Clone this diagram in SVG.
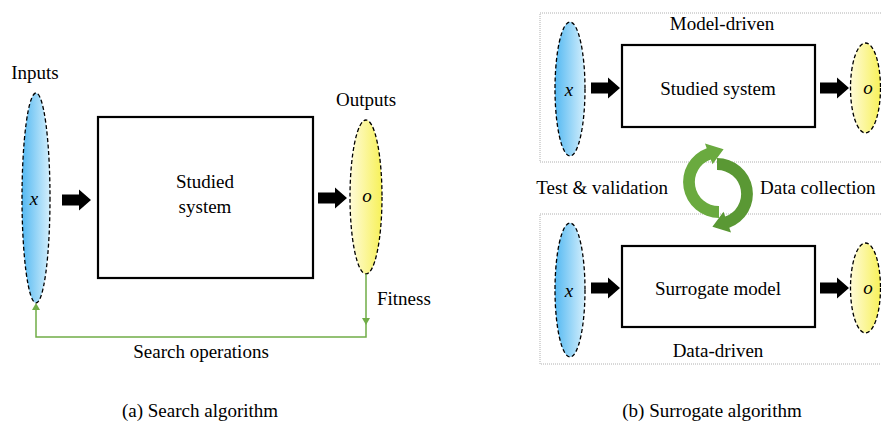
<svg xmlns="http://www.w3.org/2000/svg" width="881" height="424" viewBox="0 0 881 424">
<defs>
<linearGradient id="gBlue" x1="0" y1="0" x2="1" y2="0">
<stop offset="0" stop-color="#55b9f2"/><stop offset="1" stop-color="#d4effc"/>
</linearGradient>
<linearGradient id="gYel" x1="0" y1="0" x2="1" y2="0">
<stop offset="0" stop-color="#fffbd8"/><stop offset="1" stop-color="#f7f159"/>
</linearGradient>
<path id="blk" d="M0,-5.5 H17 V-10.5 L29,0 L17,10.5 V5.5 H0 Z" fill="#000"/>
</defs>
<style>
text{font-family:"Liberation Serif","Times New Roman",Tinos,"Noto Serif","DejaVu Serif",serif;font-size:19px;fill:#000}
.it{font-style:italic}
.in{fill:url(#gBlue);stroke:#000;stroke-width:1.3;stroke-dasharray:4 2.5}
.out{fill:url(#gYel);stroke:#000;stroke-width:1.3;stroke-dasharray:4 2.5}
.box{fill:#fff;stroke:#000;stroke-width:2.2}
.frame{fill:none;stroke:#b0b0b0;stroke-width:1;stroke-dasharray:1 1}
.fb{fill:none;stroke:#70ad47;stroke-width:1.5}
</style>
<rect width="881" height="424" fill="#fff"/>

<!-- Panel (a) -->
<g id="a-inputs">
<text x="35" y="79" text-anchor="middle">Inputs</text>
<ellipse class="in" cx="36" cy="198" rx="14" ry="105"/>
<text class="it" x="34" y="205" text-anchor="middle">x</text>
</g>
<g id="a-system">
<rect class="box" x="98" y="117" width="215" height="161"/>
<text x="205" y="188" text-anchor="middle">Studied</text>
<text x="205" y="213" text-anchor="middle">system</text>
</g>
<g id="a-outputs">
<text x="366" y="106" text-anchor="middle">Outputs</text>
<ellipse class="out" cx="366" cy="197" rx="16" ry="77"/>
<text class="it" x="367" y="202" text-anchor="middle">o</text>
</g>
<g id="a-connectors">
<use href="#blk" x="62" y="200"/>
<use href="#blk" x="318" y="198"/>
<path class="fb" d="M366,274 V337 H36 V306"/>
<path d="M362,318 L370,318 L366,325 Z" fill="#70ad47"/>
<path d="M32,310 L40,310 L36,303 Z" fill="#70ad47"/>
<text x="377" y="305">Fitness</text>
<text x="201" y="358" text-anchor="middle">Search operations</text>
</g>
<text x="200" y="417" text-anchor="middle">(a) Search algorithm</text>

<!-- Panel (b) -->
<rect class="frame" x="540" y="13" width="345" height="149"/>
<rect class="frame" x="540" y="214" width="345" height="150"/>
<g id="b-top-x">
<ellipse class="in" cx="570" cy="89" rx="15" ry="67"/>
<text class="it" x="569" y="96" text-anchor="middle">x</text>
</g>
<g id="b-top-system">
<text x="722" y="30" text-anchor="middle">Model-driven</text>
<rect class="box" x="622" y="45" width="193" height="82"/>
<text x="718" y="95" text-anchor="middle">Studied system</text>
</g>
<g id="b-top-o">
<ellipse class="out" cx="865.5" cy="88" rx="15" ry="45"/>
<text class="it" x="868" y="94" text-anchor="middle">o</text>
</g>
<g id="b-bot-x">
<ellipse class="in" cx="570" cy="290" rx="15" ry="67"/>
<text class="it" x="569" y="297" text-anchor="middle">x</text>
</g>
<g id="b-bot-model">
<rect class="box" x="622" y="246" width="193" height="81"/>
<text x="718" y="295" text-anchor="middle">Surrogate model</text>
<text x="718" y="357" text-anchor="middle">Data-driven</text>
</g>
<g id="b-bot-o">
<ellipse class="out" cx="865.5" cy="288" rx="15" ry="45"/>
<text class="it" x="868" y="294" text-anchor="middle">o</text>
</g>
<g id="b-cycle">
<path d="M719,218 A36,36 0 0 1 706.7,148.2 L704.98,143.47 L723.6,149.3 L712.5,164.15 L710.8,159.4 A24,24 0 0 0 719,206 Z" fill="#6aaa3f"/>
<path d="M717,158 A36,36 0 0 1 729.3,227.8 L731.02,232.53 L712.4,226.7 L723.5,211.85 L725.2,216.6 A24,24 0 0 0 717,170 Z" fill="#5a9834"/>
<text x="668" y="194" text-anchor="end">Test &amp; validation</text>
<text x="760" y="194">Data collection</text>
</g>
<g id="b-connectors">
<use href="#blk" x="591" y="88"/>
<use href="#blk" x="820" y="88"/>
<use href="#blk" x="591" y="288"/>
<use href="#blk" x="820" y="288"/>
</g>
<text x="712" y="417" text-anchor="middle">(b) Surrogate algorithm</text>
</svg>
